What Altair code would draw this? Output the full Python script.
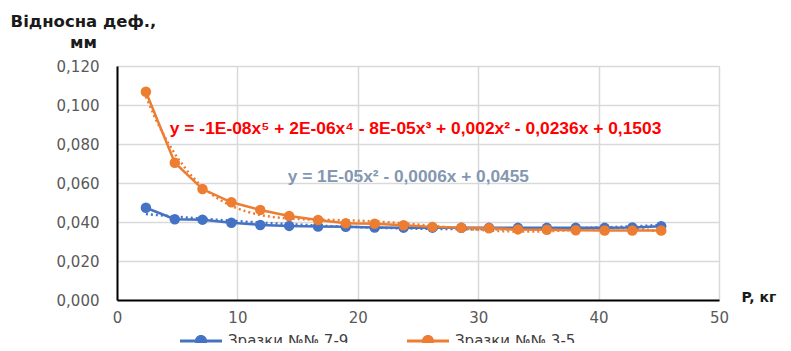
import altair as alt
import pandas as pd

# ---- data ----
load_kg = [2.4, 4.8, 7.1, 9.5, 11.9, 14.3, 16.7, 19.0, 21.4, 23.8,
           26.2, 28.6, 30.9, 33.3, 35.7, 38.1, 40.5, 42.8, 45.2]
series_a_name = "Зразки №№ 7-9"
series_b_name = "Зразки №№ 3-5"
series_a = [0.0473, 0.0414, 0.0412, 0.0396, 0.0385, 0.0380, 0.0377, 0.0376, 0.0372, 0.0371,
            0.0371, 0.0370, 0.0370, 0.0370, 0.0370, 0.0370, 0.0370, 0.0372, 0.0378]
series_b = [0.1068, 0.0704, 0.0569, 0.0501, 0.0462, 0.0431, 0.0410, 0.0393, 0.0391, 0.0383,
            0.0375, 0.0370, 0.0368, 0.0362, 0.0360, 0.0358, 0.0356, 0.0356, 0.0356]
x_ticks = [0, 10, 20, 30, 40, 50]
y_ticks = [0.0, 0.02, 0.04, 0.06, 0.08, 0.10, 0.12]
eq_b = "y = -1E-08x⁵ + 2E-06x⁴ - 8E-05x³ + 0,002x² - 0,0236x + 0,1503"
eq_a = "y = 1E-05x² - 0,0006x + 0,0455"

BLUE = "#4472C4"
ORANGE = "#ED7D31"

df = pd.DataFrame({
    "x": load_kg * 2,
    "y": series_a + series_b,
    "s": [series_a_name] * len(load_kg) + [series_b_name] * len(load_kg),
})

color = alt.Color(
    "s:N",
    scale=alt.Scale(domain=[series_a_name, series_b_name], range=[BLUE, ORANGE]),
    legend=alt.Legend(
        title=None, orient="none", direction="horizontal",
        legendX=63, legendY=254,
        symbolType="M-1,-0.07 L1,-0.07 L1,0.07 L-1,0.07 Z M0.29,0 A0.29,0.29 0 1,1 -0.29,0 A0.29,0.29 0 1,1 0.29,0 Z",
        symbolSize=1764, symbolStrokeWidth=0, symbolOpacity=1,
        labelFontSize=15, labelColor="#404040", labelFont="DejaVu Sans",
        columnPadding=58, labelOffset=6,
    ),
)

xenc = alt.X("x:Q", scale=alt.Scale(domain=[0, 50], nice=False),
             axis=alt.Axis(values=x_ticks, format="d", title="P, кг", labelOverlap=False, tickCount=20,
                           labelFlush=False,
                           titleX=624, titleY=-3, titleAlign="left", titleBaseline="middle",
                           titleFontSize=14, titleFont="DejaVu Sans", titleFontWeight="bold",
                           titleColor="#1a1a1a",
                           labelFontSize=15, labelFont="DejaVu Sans", labelColor="#595959",
                           labelPadding=10, ticks=False, domainColor="black", domainWidth=2,
                           gridColor="#d9d9d9", gridWidth=1.5))
yenc = alt.Y("y:Q", scale=alt.Scale(domain=[0, 0.12], nice=False),
             axis=alt.Axis(values=y_ticks, format=".3f", labelOverlap=False, tickCount=20,
                           labelFlush=False,
                           labelExpr="replace(datum.label, '.', ',')",
                           title=["Відносна деф.,", "мм"], titleAngle=0,
                           titleX=-34, titleY=-40, titleAlign="center", titleBaseline="alphabetic",
                           titleFontSize=16.5, titleFont="DejaVu Sans", titleFontWeight="bold",
                           titleColor="#1a1a1a", titleLineHeight=21,
                           labelFontSize=15, labelFont="DejaVu Sans", labelColor="#595959",
                           labelPadding=18, ticks=False, domainColor="black", domainWidth=2,
                           gridColor="#d9d9d9", gridWidth=1.5))

base = alt.Chart(df)

lines = base.mark_line(strokeWidth=2.5).encode(x=xenc, y=yenc, color=color)
points = base.mark_point(filled=True, size=110, opacity=1).encode(x="x:Q", y="y:Q", color=color)

trend_b = alt.Chart(pd.DataFrame({"x": load_kg, "y": series_b})).transform_regression(
    "x", "y", method="poly", order=5
).mark_line(color=ORANGE, strokeWidth=2.5, strokeDash=[2, 3]).encode(x="x:Q", y="y:Q")
trend_a = alt.Chart(pd.DataFrame({"x": load_kg, "y": series_a})).transform_regression(
    "x", "y", method="poly", order=2
).mark_line(color=BLUE, strokeWidth=2.5, strokeDash=[2, 3]).encode(x="x:Q", y="y:Q")

text_b = alt.Chart(pd.DataFrame({"x": [24.8], "y": [0.0877], "t": [eq_b]})).mark_text(
    color="#FF0000", fontSize=17.4, fontWeight="bold", font="Liberation Sans"
).encode(x="x:Q", y="y:Q", text="t:N")
text_a = alt.Chart(pd.DataFrame({"x": [24.2], "y": [0.0631], "t": [eq_a]})).mark_text(
    color="#8497B0", fontSize=17.3, fontWeight="bold", font="Liberation Sans"
).encode(x="x:Q", y="y:Q", text="t:N")

chart = alt.layer(trend_a, trend_b, lines, points, text_b, text_a).properties(
    width=602, height=234,
    autosize=alt.AutoSizeParams(type="none"),
    padding={"left": 109, "top": 58, "right": 64, "bottom": 43},
).configure_view(stroke=None).configure(background="white")

chart.save("out.html", embed_options={"renderer": "svg", "actions": False})
